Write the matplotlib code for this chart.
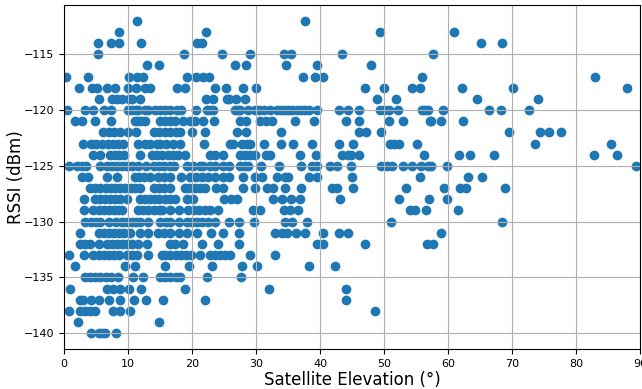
import numpy as np
import matplotlib
matplotlib.use("Agg")
import matplotlib.pyplot as plt

# elevation (deg) of each observation, grouped by RSSI level (dBm)
rssi_levels = list(range(-112, -141, -1))

elev_112 = [11.4, 37.7]
elev_113 = [8.6, 22.2, 49.4, 61.0]
elev_114 = [5.3, 7.4, 8.6, 12.1, 20.7, 21.5, 65.2, 68.4]
elev_115 = [5.3, 18.8, 24.7, 29.0, 34.4, 35.5, 43.4, 57.7]
elev_116 = [13.0, 14.8, 26.7, 28.4, 34.7, 39.6, 47.9]
elev_117 = [0.3, 3.8, 10.2, 11.4, 12.3, 19.2, 20.6, 21.7, 22.6, 37.3, 39.2,
            40.5, 55.9, 82.9]
elev_118 = [2.3, 4.4, 5.1, 6.7, 8.0, 10.0, 11.3, 12.7, 13.5, 17.6, 18.9, 23.6,
            25.3, 27.9, 30.0, 47.0, 50.0, 54.4, 55.6, 62.2, 70.2, 88.0]
elev_119 = [5.5, 7.5, 8.3, 9.0, 10.2, 10.7, 11.9, 22.2, 23.2, 25.4, 25.7, 26.9,
            28.3, 48.9, 51.9, 64.6, 74.1]
elev_120 = [0.4, 3.3, 4.6, 6.2, 7.3, 10.0, 10.6, 11.2, 11.6, 12.7, 13.2, 14.2,
            15.0, 15.8, 16.5, 17.6, 18.2, 20.6, 22.3, 22.8, 23.3, 26.7, 27.2,
            27.5, 28.8, 29.8, 30.5, 31.2, 32.2, 33.2, 33.8, 34.4, 35.0, 35.6,
            36.4, 37.0, 37.6, 38.2, 39.5, 42.9, 44.3, 46.1, 49.4, 50.0, 50.7,
            52.2, 55.9, 56.4, 56.9, 59.2, 66.4, 68.2, 72.7]
elev_121 = [1.7, 2.8, 4.8, 7.4, 11.1, 11.6, 12.0, 12.7, 15.0, 15.8, 16.5, 17.3,
            18.6, 19.7, 20.5, 21.7, 23.5, 27.5, 28.5, 30.6, 31.5, 32.5, 36.1,
            39.0, 44.0, 46.1, 50.7, 53.0, 57.2, 57.4, 58.9, 62.3]
elev_122 = [6.1, 7.0, 7.8, 8.7, 10.0, 11.3, 14.0, 14.9, 15.8, 16.6, 17.5, 18.1,
            20.0, 22.0, 27.0, 28.4, 33.9, 46.1, 47.2, 49.6, 69.6, 74.4, 75.8,
            77.6]
elev_123 = [3.0, 4.2, 5.0, 6.0, 6.8, 7.6, 8.4, 9.2, 11.5, 12.7, 13.5, 14.5,
            15.0, 16.0, 17.0, 18.1, 21.8, 25.9, 26.4, 27.8, 28.6, 29.1, 31.2,
            33.9, 35.7, 38.8, 43.0, 45.1, 50.9, 51.6, 52.3, 55.2, 73.6, 85.4]
elev_124 = [4.5, 5.6, 7.2, 7.9, 8.6, 9.3, 11.8, 13.7, 14.5, 15.3, 16.2, 17.1,
            17.8, 18.9, 22.8, 23.6, 24.9, 27.5, 28.3, 29.0, 29.8, 31.5, 32.2,
            36.9, 39.4, 43.4, 44.4, 44.9, 46.1, 56.3, 61.7, 63.5, 67.2, 82.8,
            86.4]
elev_125 = [0.8, 2.0, 2.8, 3.5, 5.7, 6.7, 7.5, 8.3, 9.1, 9.9, 10.7, 11.5, 12.8,
            14.0, 14.8, 15.6, 16.5, 17.2, 19.2, 20.2, 21.2, 21.7, 22.8, 23.6,
            24.8, 25.7, 27.5, 28.3, 28.8, 30.8, 33.6, 37.0, 38.7, 39.5, 41.6,
            42.6, 44.9, 49.6, 50.4, 51.2, 52.9, 54.3, 55.8, 56.9, 57.4, 59.9,
            89.4]
elev_126 = [2.8, 3.8, 6.7, 8.3, 11.1, 11.7, 12.5, 13.4, 14.7, 15.6, 16.6, 18.2,
            19.7, 20.6, 21.5, 22.5, 23.6, 24.9, 25.8, 28.0, 29.8, 30.9, 33.3,
            34.5, 35.0, 38.2, 39.6, 45.0, 55.6, 63.1, 65.3]
elev_127 = [4.1, 4.9, 5.6, 6.5, 7.3, 8.0, 8.8, 9.6, 10.4, 11.1, 11.9, 14.0,
            14.8, 15.6, 16.6, 18.9, 19.6, 20.5, 21.2, 22.0, 23.8, 24.8, 28.0,
            29.8, 31.7, 32.7, 34.6, 37.0, 41.8, 42.6, 45.1, 53.4, 59.4, 61.9,
            62.8, 68.9]
elev_128 = [3.1, 4.8, 5.6, 6.4, 7.2, 8.0, 8.8, 9.8, 11.9, 12.6, 13.4, 14.2,
            14.9, 15.8, 16.6, 17.3, 19.2, 20.2, 25.0, 26.1, 27.0, 32.7, 34.0,
            35.4, 36.8, 43.1, 52.4, 57.0, 59.8]
elev_129 = [3.1, 4.6, 5.4, 6.2, 7.0, 7.8, 8.5, 9.0, 11.6, 12.4, 13.2, 14.0,
            14.8, 15.3, 16.6, 17.9, 19.4, 20.3, 21.1, 22.0, 22.8, 24.0, 29.6,
            30.6, 34.3, 35.3, 36.5, 54.1, 54.8, 56.5, 61.6]
elev_130 = [3.3, 4.2, 5.0, 5.6, 7.1, 8.2, 9.0, 9.8, 10.6, 11.3, 11.9, 13.2,
            15.0, 16.0, 16.6, 17.9, 19.2, 20.0, 20.8, 21.6, 22.5, 23.6, 25.8,
            27.4, 29.7, 34.5, 35.6, 37.9, 51.1, 68.5]
elev_131 = [2.5, 5.4, 6.2, 7.0, 7.8, 8.6, 9.4, 10.3, 11.9, 13.2, 14.7, 15.6,
            16.6, 17.9, 19.2, 20.8, 23.0, 24.9, 27.3, 33.0, 34.0, 34.8, 36.2,
            37.7, 40.5, 43.0, 44.3, 58.9]
elev_132 = [2.5, 3.3, 4.1, 5.4, 6.7, 7.5, 8.3, 9.1, 9.9, 10.7, 11.5, 12.9, 16.6,
            17.3, 18.6, 21.6, 24.0, 27.3, 39.6, 40.4, 47.0, 56.7, 57.6]
elev_133 = [0.8, 3.2, 4.6, 5.4, 6.2, 7.0, 7.8, 8.6, 9.8, 10.7, 11.4, 13.2, 15.3,
            15.8, 16.6, 17.5, 18.3, 19.1, 19.9, 21.2, 22.8, 23.6, 24.4, 25.2,
            26.0, 29.0, 33.0]
elev_134 = [1.7, 9.6, 11.1, 15.8, 19.6, 23.1, 27.8, 30.2, 38.3, 42.3]
elev_135 = [3.3, 4.1, 4.9, 5.7, 6.5, 7.4, 8.4, 10.8, 12.3, 15.0, 15.8, 16.6,
            17.5, 18.1, 22.4, 27.6]
elev_136 = [1.0, 6.7, 7.7, 8.8, 10.2, 12.0, 18.9, 32.0, 44.1]
elev_137 = [2.5, 3.0, 4.2, 5.5, 7.1, 8.8, 10.9, 12.8, 15.5, 22.1, 44.0]
elev_138 = [0.8, 2.5, 3.3, 4.0, 4.8, 7.7, 8.8, 10.3, 48.6]
elev_139 = [2.2, 14.8]
elev_140 = [4.2, 5.4, 6.0, 6.4, 8.1]

rows = [elev_112, elev_113, elev_114, elev_115, elev_116, elev_117, elev_118,
        elev_119, elev_120, elev_121, elev_122, elev_123, elev_124, elev_125,
        elev_126, elev_127, elev_128, elev_129, elev_130, elev_131, elev_132,
        elev_133, elev_134, elev_135, elev_136, elev_137, elev_138, elev_139,
        elev_140]

elevation = np.concatenate([np.array(r) for r in rows])
rssi = np.concatenate([np.full(len(r), lvl) for r, lvl in zip(rows, rssi_levels)])

fig = plt.figure(figsize=(6.42, 3.89), dpi=100)
ax = fig.add_axes([0.0997, 0.103, 0.8973, 0.884])
ax.scatter(elevation, rssi, s=36, color='#1f77b4')
ax.set_xlim(0, 90)
ax.set_xlabel('Satellite Elevation (°)', fontsize=12, labelpad=1.5)
ax.set_ylabel('RSSI (dBm)', fontsize=12, labelpad=-1)
ax.tick_params(labelsize=8)
ax.grid(True)

fig.savefig('out.png', dpi=100)
